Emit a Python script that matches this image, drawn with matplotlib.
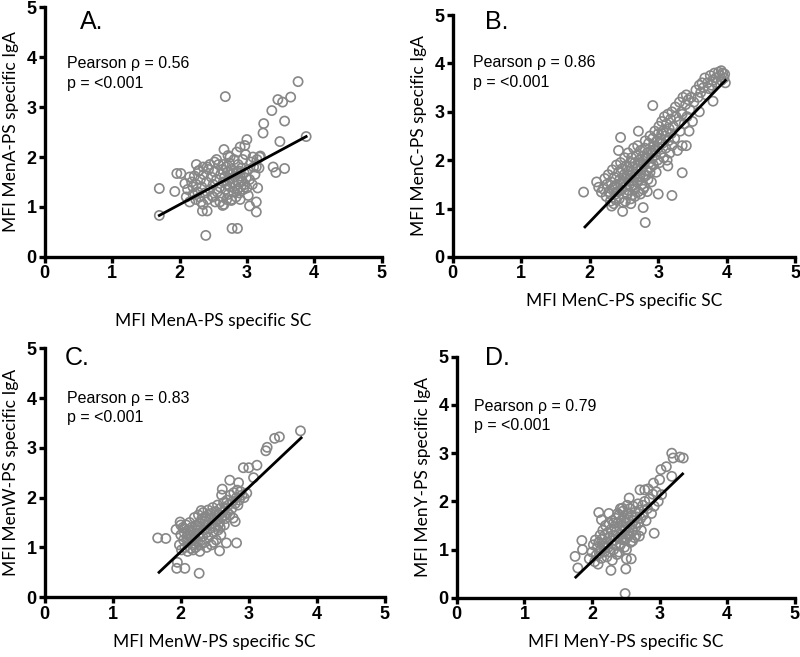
import numpy as np
import matplotlib
matplotlib.use("Agg")
import matplotlib.pyplot as plt

# ---- panel A: MenA ----
a_x = [1.70, 1.70, 1.93, 1.96, 2.02, 2.08, 2.39, 2.68, 2.78, 2.86, 3.88, 3.76, 3.65, 3.46, 3.53,
       3.37, 3.25, 3.24, 3.56, 3.49, 3.39, 3.43, 3.56, 3.14, 3.14, 3.04, 3.16, 2.97, 3.00, 2.90,
       2.66, 2.34, 2.41, 2.32, 2.20, 2.15, 2.29, 2.41, 2.52, 2.64, 2.77, 3.02, 3.09, 3.19, 3.14, 2.72,
       2.10, 2.12, 2.15, 2.18, 2.20, 2.22, 2.24, 2.25, 2.27, 2.28, 2.30, 2.31, 2.33, 2.35, 2.36,
       2.38, 2.40, 2.42, 2.43, 2.45, 2.47, 2.48, 2.50, 2.52, 2.53, 2.55, 2.56, 2.58, 2.60, 2.61,
       2.62, 2.63, 2.65, 2.66, 2.67, 2.68, 2.69, 2.70, 2.71, 2.72, 2.73, 2.74, 2.75, 2.76, 2.77,
       2.78, 2.79, 2.80, 2.81, 2.82, 2.83, 2.84, 2.85, 2.86, 2.87, 2.88, 2.89, 2.90, 2.91, 2.92,
       2.93, 2.94, 2.95, 2.96, 2.97, 2.98, 2.99, 3.00, 3.02, 3.04, 3.06, 3.08, 3.10, 3.12, 3.15,
       3.18, 3.20, 2.55, 2.65, 2.75, 2.85, 2.60, 2.70, 2.90, 2.45, 2.35, 2.25, 2.50, 2.80, 2.88]
a_y = [1.37, 0.83, 1.31, 1.67, 1.67, 1.47, 0.43, 3.21, 0.57, 0.57, 2.41, 3.51, 3.20, 3.15, 3.10,
       2.93, 2.67, 2.48, 2.72, 2.31, 1.80, 1.69, 1.77, 0.90, 1.10, 1.02, 1.38, 2.23, 2.35, 2.20,
       2.15, 0.92, 0.92, 1.10, 1.40, 1.60, 1.73, 1.80, 1.90, 1.03, 1.13, 1.23, 2.00, 2.00, 1.80, 2.03,
       1.20, 1.35, 1.10, 1.50, 1.25, 1.62, 1.15, 1.45, 1.30, 1.72, 1.20, 1.55, 1.40, 1.05, 1.65,
       1.28, 1.50, 1.15, 1.75, 1.35, 1.60, 1.22, 1.45, 1.70, 1.10, 1.55, 1.30, 1.85, 1.40, 1.65,
       1.20, 1.75, 1.50, 1.05, 1.60, 1.35, 1.80, 1.45, 1.70, 1.25, 1.55, 1.88, 1.40, 1.65, 1.15,
       1.75, 1.50, 1.30, 1.95, 1.60, 1.42, 1.20, 1.70, 1.35, 1.85, 1.50, 1.28, 1.62, 1.40, 1.78,
       1.52, 1.95, 1.35, 1.68, 1.45, 2.05, 1.58, 1.38, 1.75, 1.55, 1.90, 1.45, 1.80, 1.65, 1.95,
       1.78, 2.02, 1.95, 1.85, 2.00, 2.10, 1.10, 1.15, 1.15, 1.85, 1.80, 1.85, 1.20, 1.68, 1.72]
a_fit_x = [1.70, 3.88]
a_fit_y = [0.83, 2.41]

# ---- panel B: MenC ----
b_x = [1.91, 2.10, 2.13, 2.17, 2.45, 2.42, 2.71, 2.92, 3.20, 3.00, 2.81, 2.78, 2.48, 3.35, 3.35,
       3.41, 3.14, 3.60, 3.92, 3.80,
       2.20, 2.22, 2.24, 2.25, 2.27, 2.28, 2.30, 2.31, 2.33, 2.34, 2.35, 2.36, 2.38, 2.39, 2.40,
       2.42, 2.43, 2.44, 2.45, 2.46, 2.47, 2.48, 2.49, 2.50, 2.51, 2.52, 2.53, 2.54, 2.55, 2.56,
       2.57, 2.58, 2.59, 2.60, 2.60,
       2.61, 2.62, 2.63, 2.64, 2.65, 2.66, 2.67, 2.68, 2.69, 2.70, 2.70, 2.71, 2.72, 2.73, 2.74,
       2.75, 2.76, 2.77, 2.78, 2.79, 2.80, 2.80,
       2.81, 2.82, 2.83, 2.84, 2.85, 2.86, 2.87, 2.88, 2.89, 2.90, 2.90, 2.91, 2.92, 2.93, 2.94,
       2.95, 2.96, 2.97, 2.98, 2.99, 3.00, 3.00,
       3.01, 3.02, 3.03, 3.04, 3.05, 3.06, 3.07, 3.08, 3.09, 3.10, 3.11, 3.12, 3.13, 3.14, 3.15,
       3.16, 3.17, 3.18, 3.19, 3.20, 3.20,
       3.22, 3.24, 3.25, 3.26, 3.28, 3.30, 3.31, 3.32, 3.34, 3.35, 3.36, 3.38, 3.40, 3.41, 3.42,
       3.44, 3.45, 3.46, 3.48, 3.50,
       3.52, 3.55, 3.58, 3.60, 3.62, 3.64, 3.66, 3.68, 3.70, 3.72, 3.74, 3.76, 3.78, 3.80, 3.82,
       3.84, 3.86, 3.88, 3.90, 3.92, 3.94, 3.96, 3.98, 3.97,
       2.30, 2.40, 2.50, 2.55, 2.65, 2.75, 2.85, 2.95, 3.05, 2.62, 2.72, 2.82, 2.68, 2.58, 2.78,
       2.88, 2.92, 3.02, 3.12, 2.45,
       2.32, 2.38, 2.52, 2.60, 2.66, 2.74, 2.84, 2.36, 2.56, 2.64]
b_y = [1.34, 1.55, 1.44, 1.34, 2.47, 2.20, 2.60, 3.13, 1.27, 1.30, 0.71, 1.02, 0.94, 1.74, 2.30,
       2.30, 1.88, 3.00, 3.85, 3.22,
       1.40, 1.62, 1.25, 1.50, 1.70, 1.35, 1.15, 1.55, 1.80, 1.42, 1.10, 1.65, 1.30, 1.90, 1.50,
       1.75, 1.20, 1.60, 1.95, 1.38, 1.82, 1.55, 1.12, 1.70, 2.05, 1.45, 1.88, 1.62, 1.30, 2.15,
       1.78, 1.50, 1.95, 1.68, 1.20,
       2.05, 1.85, 1.58, 2.25, 1.40, 1.95, 1.72, 2.10, 1.55, 1.88, 2.30, 1.35, 2.00, 1.65, 2.20,
       1.80, 1.50, 2.08, 1.92, 1.70, 2.25, 1.45,
       2.40, 2.02, 1.78, 2.15, 1.60, 2.35, 1.95, 2.50, 1.85, 2.20, 1.55, 2.05, 2.45, 1.90, 2.30,
       2.60, 2.10, 1.75, 2.40, 2.00, 2.55, 2.25,
       2.70, 1.95, 2.45, 2.15, 2.80, 2.35, 2.60, 2.05, 2.90, 2.50, 2.25, 2.75, 2.00, 2.95, 2.40,
       2.65, 2.15, 2.85, 2.55, 3.00, 2.30,
       2.70, 2.45, 3.10, 2.90, 2.20, 2.80, 3.20, 2.60, 3.00, 2.95, 3.30, 2.75, 3.15, 3.35, 2.90,
       3.25, 2.60, 3.05, 3.30, 2.80,
       3.20, 3.45, 3.30, 3.55, 3.40, 3.60, 3.50, 3.70, 3.35, 3.60, 3.48, 3.75, 3.55, 3.65, 3.80,
       3.70, 3.60, 3.82, 3.75, 3.65, 3.80, 3.70, 3.60, 3.78,
       1.30, 1.35, 1.55, 1.85, 1.65, 1.95, 2.05, 2.20, 2.55, 1.28, 1.60, 1.68, 1.82, 1.62, 1.40,
       1.75, 2.15, 2.35, 2.60, 1.50,
       1.05, 1.18, 1.15, 1.10, 1.25, 1.30, 1.35, 1.45, 1.38, 1.48]
b_fit_x = [1.93, 3.98]
b_fit_y = [0.62, 3.65]

# ---- panel C: MenW ----
c_x = [1.66, 1.78, 1.93, 1.99, 1.95, 2.06, 1.94, 2.27, 2.57, 2.67, 2.82, 2.97, 3.07, 3.12, 2.92,
       3.00, 3.25, 3.27, 3.38, 3.45, 3.76, 2.30, 2.72, 2.77, 2.80, 2.84, 2.61, 2.60, 2.85,
       1.98, 2.00, 2.01, 2.03, 2.04, 2.05, 2.06, 2.08, 2.09, 2.10, 2.11, 2.12, 2.13, 2.14, 2.15,
       2.16, 2.17, 2.18, 2.19, 2.20, 2.21, 2.22, 2.23, 2.24, 2.25, 2.26, 2.27, 2.28, 2.29, 2.30,
       2.31, 2.32, 2.33, 2.34, 2.35, 2.36, 2.37, 2.38, 2.39, 2.40, 2.41, 2.42, 2.43, 2.44, 2.45,
       2.46, 2.47, 2.48, 2.49, 2.50, 2.51, 2.52, 2.53, 2.54, 2.55, 2.56, 2.57, 2.58, 2.59, 2.60,
       2.62, 2.63, 2.64, 2.65, 2.66, 2.68, 2.69, 2.70, 2.72, 2.73, 2.75, 2.76, 2.78, 2.80, 2.82,
       2.83, 2.86, 2.88, 2.90, 2.93, 2.00, 2.05, 2.10, 2.15, 2.20, 2.25, 2.35, 2.45, 2.55, 2.65,
       2.38, 2.48, 2.58, 2.18, 2.28]
c_y = [1.19, 1.18, 1.36, 1.51, 0.70, 0.58, 0.58, 0.48, 0.93, 1.09, 1.09, 2.09, 2.40, 2.65, 2.60,
       2.60, 2.94, 3.01, 3.19, 3.22, 3.34, 1.74, 2.35, 1.59, 1.52, 1.85, 2.17, 2.05, 2.30,
       1.05, 1.25, 0.95, 1.40, 1.15, 1.30, 1.00, 1.45, 1.20, 0.92, 1.35, 1.10, 1.50, 1.25, 0.98,
       1.40, 1.15, 1.05, 1.30, 1.60, 1.20, 1.00, 1.45, 1.35, 1.12, 1.65, 1.28, 1.50, 1.05, 1.40,
       1.58, 1.22, 1.70, 1.35, 1.10, 1.52, 1.62, 1.30, 1.45, 1.75, 1.20, 1.55, 1.38, 1.68, 1.05,
       1.48, 1.80, 1.30, 1.60, 1.42, 1.72, 1.15, 1.55, 1.85, 1.35, 1.65, 1.50, 1.78, 1.25, 1.60,
       1.70, 1.90, 1.45, 1.80, 1.58, 1.95, 1.70, 1.85, 1.65, 2.05, 1.78, 1.92, 2.10, 1.88, 2.00,
       2.15, 1.95, 2.12, 2.05, 2.00, 1.45, 1.38, 1.25, 1.18, 1.08, 1.40, 1.45, 1.58, 1.45, 1.65,
       1.00, 1.10, 1.40, 0.95, 0.92]
c_fit_x = [1.68, 3.77]
c_fit_y = [0.50, 3.20]

# ---- panel D: MenY ----
d_x = [1.75, 1.79, 1.85, 1.86, 1.96, 2.10, 2.14, 2.28, 2.50, 2.49, 2.51, 2.58, 2.92, 2.71, 2.78,
       2.83, 2.91, 3.00, 3.03, 3.10, 3.02, 3.18, 3.20, 3.30, 3.35, 3.18, 2.92, 2.55, 2.45,
       2.00, 2.02, 2.04, 2.05, 2.06, 2.08, 2.09, 2.10, 2.11, 2.12, 2.13, 2.14, 2.15, 2.16, 2.17,
       2.18, 2.19, 2.20, 2.21, 2.22, 2.23, 2.24, 2.25, 2.26, 2.27, 2.28, 2.29, 2.30, 2.31, 2.32,
       2.33, 2.34, 2.35, 2.36, 2.37, 2.38, 2.39, 2.40, 2.41, 2.42, 2.43, 2.44, 2.45, 2.46, 2.47,
       2.48, 2.49, 2.50, 2.51, 2.52, 2.53, 2.54, 2.55, 2.56, 2.57, 2.58, 2.59, 2.60, 2.61, 2.62,
       2.63, 2.64, 2.65, 2.66, 2.68, 2.69, 2.70, 2.72, 2.73, 2.75, 2.76, 2.78, 2.80, 2.82, 2.85,
       2.88, 2.90, 2.95, 2.98, 2.25, 2.30, 2.40, 2.35, 2.45, 2.50, 2.55, 2.60, 2.65, 2.70, 2.20,
       2.32, 2.42, 2.52, 2.48, 2.38]
d_y = [0.86, 0.62, 1.19, 1.00, 0.81, 1.77, 1.62, 0.57, 0.60, 0.09, 0.81, 0.81, 1.34, 2.24, 2.24,
       2.26, 2.38, 2.45, 2.14, 2.72, 2.66, 3.00, 2.90, 2.92, 2.90, 2.52, 1.90, 2.07, 1.86,
       0.95, 1.10, 0.75, 1.20, 0.88, 1.05, 0.70, 1.15, 0.92, 1.30, 1.00, 0.82, 1.22, 1.40, 1.08,
       0.95, 1.30, 1.50, 1.15, 0.85, 1.35, 1.05, 1.55, 1.25, 0.95, 1.42, 1.12, 1.60, 1.30, 1.00,
       1.48, 1.20, 1.65, 1.38, 0.90, 1.55, 1.25, 1.72, 1.45, 1.10, 1.60, 1.32, 1.50, 1.80, 1.20,
       1.65, 1.40, 1.55, 1.00, 1.75, 1.30, 1.62, 1.45, 1.85, 1.15, 1.70, 1.52, 1.38, 1.90, 1.60,
       1.25, 1.78, 1.48, 1.68, 1.95, 1.55, 1.82, 1.65, 1.40, 1.92, 1.72, 2.00, 1.60, 1.85, 2.05,
       1.75, 2.15, 2.20, 2.00, 1.75, 0.78, 0.95, 1.10, 1.25, 1.22, 1.30, 1.18, 1.30, 1.28, 1.05,
       1.55, 1.85, 1.92, 1.05, 1.75]
d_fit_x = [1.76, 3.34]
d_fit_y = [0.43, 2.57]

letters = ["A.", "B.", "C.", "D."]
serogroups = ["MenA", "MenC", "MenW", "MenY"]
rhos = ["0.56", "0.86", "0.83", "0.79"]
tick_vals = [0, 1, 2, 3, 4, 5]

fig = plt.figure(figsize=(8, 6.57), dpi=100)

# axes rectangles in figure fractions
rects = [[0.056, 0.609, 0.421, 0.380],
         [0.566, 0.609, 0.428, 0.368],
         [0.056, 0.091, 0.425, 0.379],
         [0.571, 0.090, 0.4225, 0.367]]
xs = [a_x, b_x, c_x, d_x]
ys = [a_y, b_y, c_y, d_y]
fxs = [a_fit_x, b_fit_x, c_fit_x, d_fit_x]
fys = [a_fit_y, b_fit_y, c_fit_y, d_fit_y]
letter_pos = [(0.52, 4.70), (0.47, 4.86), (0.29, 4.80), (0.41, 4.98)]
text_pos = [(0.33, 3.88, 3.48), (0.29, 4.01, 3.60), (0.32, 4.00, 3.61), (0.25, 3.96, 3.57)]
xlabel_pad = [22, 8, 8, 8]

gray = "#878787"
tick_family = ["Liberation Sans Narrow", "Liberation Sans", "DejaVu Sans"]

for i in range(4):
    ax = fig.add_axes(rects[i])
    ax.scatter(xs[i], ys[i], s=44, facecolors="none", edgecolors=gray,
               linewidths=1.2, clip_on=False, zorder=2)
    ax.plot(fxs[i], fys[i], color="black", lw=2, zorder=3)
    ax.set_xlim(0, 5)
    ax.set_ylim(0, 5)
    ax.set_xticks(tick_vals)
    ax.set_yticks(tick_vals)
    ax.set_xticklabels([str(t) for t in tick_vals], fontweight="bold",
                       fontsize=13, family=tick_family)
    ax.set_yticklabels([str(t) for t in tick_vals], fontweight="bold",
                       fontsize=13, family=tick_family)
    for s in ["top", "right"]:
        ax.spines[s].set_visible(False)
    for s in ["left", "bottom"]:
        ax.spines[s].set_linewidth(2.4)
    ax.tick_params(direction="out", length=4, width=2.4, pad=2)
    ax.set_xlabel("MFI %s-PS specific SC" % serogroups[i], fontsize=12.5,
                  family="Lato", labelpad=xlabel_pad[i])
    ax.set_ylabel("MFI %s-PS specific IgA" % serogroups[i], fontsize=12.5,
                  family="Lato", labelpad=5)
    ax.text(letter_pos[i][0], letter_pos[i][1], letters[i], fontsize=18,
            family="Liberation Sans", va="center", ha="left")
    tx, ty1, ty2 = text_pos[i]
    ax.text(tx, ty1, "Pearson \u03c1 = " + rhos[i], fontsize=11.5,
            family="Liberation Sans", va="center", ha="left")
    ax.text(tx, ty2, "p = <0.001", fontsize=11.5,
            family="Liberation Sans", va="center", ha="left")

fig.savefig("out.png", dpi=100)
